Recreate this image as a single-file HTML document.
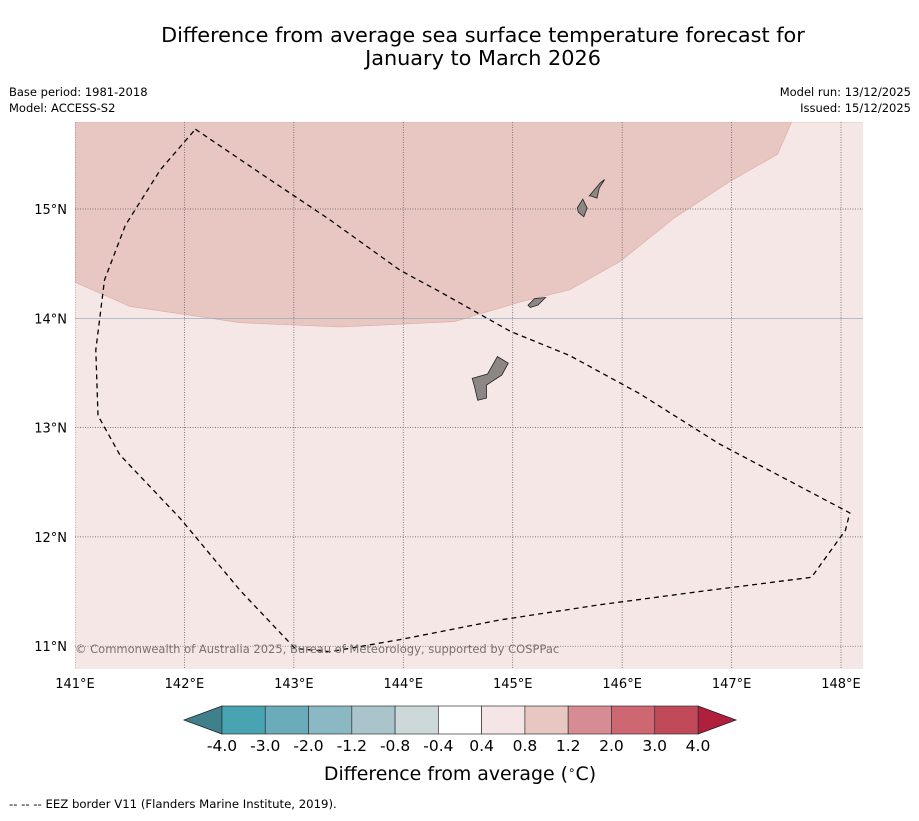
<!DOCTYPE html>
<html><head><meta charset="utf-8"><style>
body{margin:0;background:#fff;font-family:"Liberation Sans","DejaVu Sans",sans-serif}
svg text{font-family:"DejaVu Sans","Liberation Sans",sans-serif}
</style></head><body>
<svg id="c" width="919" height="816" xmlns="http://www.w3.org/2000/svg">
<text x="483" y="42" font-size="20.8" text-anchor="middle">Difference from average sea surface temperature forecast for</text>
<text x="483" y="65" font-size="20.8" text-anchor="middle">January to March 2026</text>
<text x="9" y="96" font-size="11.5">Base period: 1981-2018</text>
<text x="9" y="112" font-size="11.5">Model: ACCESS-S2</text>
<text x="911" y="96" font-size="11.5" text-anchor="end">Model run: 13/12/2025</text>
<text x="911" y="112" font-size="11.5" text-anchor="end">Issued: 15/12/2025</text>
<g id="map"></g>
<g id="cbar"></g>
<text x="460" y="780" font-size="18.9" text-anchor="middle">Difference from average (<tspan font-size="12" dy="-6">∘</tspan><tspan dy="6">C)</tspan></text>
<text x="9" y="808" font-size="11.7">-- -- -- EEZ border V11 (Flanders Marine Institute, 2019).</text>
</svg>
<script>
const lonTicks=[141,142,143,144,145,146,147,148];
const latTicks=[11,12,13,14,15];
const warmBand=[[141.0,14.33],[141.5,14.11],[142.51,13.96],[143.42,13.92],[144.47,13.97],[145.07,14.15],[145.52,14.26],[145.98,14.52],[146.48,14.92],[146.98,15.25],[147.42,15.5],[147.55,15.8]];
const eez=[[142.10,15.73],[142.69,15.33],[143.33,14.90],[143.97,14.44],[144.34,14.24],[144.98,13.88],[145.52,13.66],[146.16,13.31],[146.89,12.85],[148.08,12.22],[148.04,12.06],[147.73,11.63],[146.71,11.50],[145.80,11.38],[144.88,11.24],[143.97,11.06],[143.33,10.95],[143.01,10.98],[142.51,11.51],[141.96,12.17],[141.41,12.75],[141.21,13.11],[141.19,13.71],[141.27,14.35],[141.46,14.85],[141.78,15.36],[142.10,15.73]];
const guam=[[144.63,13.45],[144.77,13.49],[144.86,13.65],[144.96,13.59],[144.90,13.48],[144.76,13.39],[144.76,13.27],[144.68,13.25],[144.65,13.38]];
const rota=[[145.14,14.12],[145.20,14.18],[145.30,14.19],[145.23,14.12],[145.16,14.10]];
const saipan=[[145.70,15.12],[145.80,15.24],[145.84,15.27],[145.79,15.19],[145.77,15.10],[145.71,15.12]];
const tinian=[[145.59,15.01],[145.64,15.09],[145.68,15.01],[145.65,14.93],[145.60,14.97]];
const levels=["-4.0","-3.0","-2.0","-1.2","-0.8","-0.4","0.4","0.8","1.2","2.0","3.0","4.0"];
const colors=["#48a3b3","#6aacba","#8ab8c3","#a9c5cb","#cdd8da","#ffffff","#f5e6e5","#e8c6c1","#d78c93","#cd6872","#c14a58"];
const NS="http://www.w3.org/2000/svg";
const X0=75,X1=863,Y0=122,Y1=669;
const xs=lon=>75+(lon-141)*109.43, ys=lat=>209+(15-lat)*109.3;
function mk(p,t,a){const e=document.createElementNS(NS,t);for(const k in a)e.setAttribute(k,a[k]);p.appendChild(e);return e;}
const map=document.getElementById('map');
mk(map,'defs',{}).innerHTML='<clipPath id="clp"><rect x="75" y="122" width="788" height="547"/></clipPath>';
const g=mk(map,'g',{'clip-path':'url(#clp)'});
const bg=mk(g,'rect',{x:X0,y:Y0,width:X1-X0,height:Y1-Y0,fill:'#f5e7e6'});

let d='M'+X0+','+Y0+' '+warmBand.map(p=>'L'+xs(p[0]).toFixed(1)+','+ys(p[1]).toFixed(1)).join(' ')+' L'+X1+','+Y0+' Z';
const wb=mk(g,'path',{d:d,fill:'#e8c6c1',stroke:'#d9aaa6','stroke-width':0.6});

lonTicks.forEach(l=>{const x=xs(l);const ln=mk(g,'line',{x1:x,x2:x,y1:Y0,y2:Y1,stroke:'#555','stroke-width':0.7,'stroke-dasharray':'1,1.5'});

const t=mk(map,'text',{x:x,y:688,'font-size':13,'text-anchor':'middle'});t.textContent=l+'°E';
});
latTicks.forEach(l=>{const y=ys(l);const ln=mk(g,'line',{x1:X0,x2:X1,y1:y,y2:y,stroke:l==14?'#8aa4b8':'#555','stroke-width':0.7,'stroke-dasharray':l==14?'':'1,1.5'});

const t=mk(map,'text',{x:67,y:y+5,'font-size':13,'text-anchor':'end'});t.textContent=l+'°N';
});
[guam,rota,saipan,tinian].forEach((isl,i)=>{const p=mk(g,'polygon',{points:isl.map(q=>xs(q[0]).toFixed(1)+','+ys(q[1]).toFixed(1)).join(' '),fill:'#8c8785',stroke:'#222','stroke-width':0.8});
});
const ez=mk(g,'polyline',{points:eez.map(q=>xs(q[0]).toFixed(1)+','+ys(q[1]).toFixed(1)).join(' '),fill:'none',stroke:'#000','stroke-width':1.3,'stroke-dasharray':'5,4'});

const cp=mk(map,'text',{x:75,y:653,'font-size':11.5,fill:'#7a7070'});cp.textContent='© Commonwealth of Australia 2025, Bureau of Meteorology, supported by COSPPac';

const cb=document.getElementById('cbar');const cx0=222,cw=476/colors.length,cy=706,ch=28;
const la=mk(cb,'polygon',{points:`${cx0},${cy} 184,${cy+ch/2} ${cx0},${cy+ch}`,fill:'#3f808d',stroke:'#222','stroke-width':0.8});

const ra=mk(cb,'polygon',{points:`698,${cy} 736,${cy+ch/2} 698,${cy+ch}`,fill:'#b01f3c',stroke:'#222','stroke-width':0.8});

colors.forEach((c,i)=>{const r=mk(cb,'rect',{x:cx0+i*cw,y:cy,width:cw,height:ch,fill:c,stroke:'#333','stroke-width':0.7});
});
levels.forEach((l,i)=>{const t=mk(cb,'text',{x:cx0+i*cw,y:751,'font-size':15.5,'text-anchor':'middle'});t.textContent=l;
});
</script>
</body></html>
